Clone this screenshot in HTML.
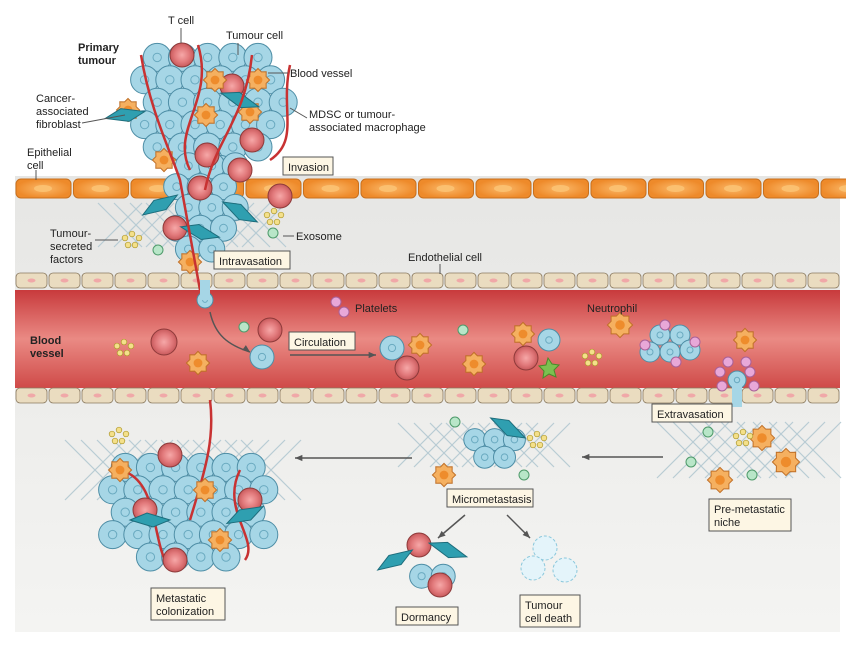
<!DOCTYPE html>
<html><head><meta charset="utf-8"><style>
body{margin:0;background:#fff;width:846px;height:653px;overflow:hidden}
svg{display:block;font-family:"Liberation Sans",sans-serif}
text{font-size:11px;fill:#222}
</style></head><body>
<svg id="s" width="846" height="653" viewBox="0 0 846 653" xmlns="http://www.w3.org/2000/svg">
<defs>
<linearGradient id="gb" x1="0" y1="0" x2="0" y2="1"><stop offset="0" stop-color="#e6e6e4"/><stop offset="1" stop-color="#f4f4f2"/></linearGradient>
<linearGradient id="ves" x1="0" y1="0" x2="0" y2="1"><stop offset="0" stop-color="#c83a3c"/><stop offset="0.5" stop-color="#ea8a84"/><stop offset="1" stop-color="#cf4a48"/></linearGradient>
<radialGradient id="rc"><stop offset="0" stop-color="#f6a8a8"/><stop offset="0.6" stop-color="#e27a7c"/><stop offset="1" stop-color="#c85a5c"/></radialGradient>
<radialGradient id="ep"><stop offset="0" stop-color="#fbb868"/><stop offset="1" stop-color="#ee8a2a"/></radialGradient>
</defs>
<rect x="15" y="176" width="825" height="456" fill="url(#gb)"/>
<rect x="15" y="290" width="825" height="98" fill="url(#ves)"/>
<g id="bg"></g>
<g id="fg"></g>
<g font-size="11">
<text x="168" y="24">T cell</text>
<text x="226" y="39">Tumour cell</text>
<text x="78" y="51" font-weight="bold">Primary</text>
<text x="78" y="64" font-weight="bold">tumour</text>
<text x="290" y="77">Blood vessel</text>
<text x="36" y="102">Cancer-</text>
<text x="36" y="115">associated</text>
<text x="36" y="128">fibroblast</text>
<text x="309" y="118">MDSC or tumour-</text>
<text x="309" y="131">associated macrophage</text>
<text x="27" y="156">Epithelial</text>
<text x="27" y="169">cell</text>
<text x="50" y="237">Tumour-</text>
<text x="50" y="250">secreted</text>
<text x="50" y="263">factors</text>
<text x="296" y="240">Exosome</text>
<text x="408" y="261">Endothelial cell</text>
<text x="355" y="312">Platelets</text>
<text x="587" y="312">Neutrophil</text>
<text x="30" y="344" font-weight="bold">Blood</text>
<text x="30" y="357" font-weight="bold">vessel</text>
</g>
<g id="lab"></g>
<g font-size="11">
<text x="288" y="171">Invasion</text>
<text x="219" y="265">Intravasation</text>
<text x="294" y="346">Circulation</text>
<text x="657" y="418">Extravasation</text>
<text x="452" y="503">Micrometastasis</text>
<text x="714" y="513">Pre-metastatic</text>
<text x="714" y="526">niche</text>
<text x="156" y="602">Metastatic</text>
<text x="156" y="615">colonization</text>
<text x="401" y="621">Dormancy</text>
<text x="525" y="609">Tumour</text>
<text x="525" y="622">cell death</text>
</g>
</svg>
<script>
const NS="http://www.w3.org/2000/svg";
const bg=document.getElementById('bg'),fg=document.getElementById('fg'),lab=document.getElementById('lab');
function el(p,t,a){const e=document.createElementNS(NS,t);for(const k in a)e.setAttribute(k,a[k]);p.appendChild(e);return e;}
for(let x=15;x<840;x+=57.5){el(bg,'rect',{x:x+1,y:179,width:55,height:19,rx:5,fill:'url(#ep)',stroke:'#c8701e','stroke-width':1});el(bg,'ellipse',{cx:x+28,cy:188.5,rx:9,ry:3.5,fill:'#fbc070'});}
[273,388].forEach(y=>{for(let x=15;x<840;x+=33){el(bg,'rect',{x:x+1,y:y,width:31,height:15,rx:4,fill:'#eadcc0',stroke:'#8a7a60','stroke-width':0.8});el(bg,'ellipse',{cx:x+16.5,cy:y+7.5,rx:4,ry:2,fill:'#f0a8a8'});}});
function mesh(cx,cy,w,h){for(let i=-w;i<w;i+=16){el(bg,'line',{x1:cx+i-h/2,y1:cy-h/2,x2:cx+i+h/2,y2:cy+h/2,stroke:'#b8ccd4','stroke-width':1.2});el(bg,'line',{x1:cx+i+h/2,y1:cy-h/2,x2:cx+i-h/2,y2:cy+h/2,stroke:'#b8ccd4','stroke-width':1.2});}}
mesh(200,225,80,44);mesh(185,470,90,60);mesh(490,445,70,44);mesh(755,450,70,56);
function bcell(p,x,y,r){el(p,'circle',{cx:x,cy:y,r:r,fill:'#a6d6e6',stroke:'#4e8ea6','stroke-width':1});el(p,'circle',{cx:x,cy:y,r:r*0.3,fill:'none',stroke:'#6aaac0','stroke-width':1});}
function rcell(p,x,y,r){el(p,'circle',{cx:x,cy:y,r:r,fill:'url(#rc)',stroke:'#8e3a3a','stroke-width':1});}
function ocell(p,x,y,r){let d='';for(let i=0;i<16;i++){const a=i/16*Math.PI*2,rr=r*(i%2?0.8:1.05);d+=(i?'L':'M')+(x+rr*Math.cos(a)).toFixed(1)+','+(y+rr*Math.sin(a)).toFixed(1);}el(p,'path',{d:d+'Z',fill:'#f5b060',stroke:'#c07028','stroke-width':1});el(p,'circle',{cx:x,cy:y,r:r*0.4,fill:'#ee8c2c'});}
function fib(p,x,y,a){el(p,'path',{d:'M-20,0 L-3,-7 L20,0 L3,7Z',fill:'#2f9fb0',stroke:'#1d6d7c',transform:`translate(${x},${y}) rotate(${a})`});}
function cluster(cx,cy,rx,ry,r){for(let y=cy-ry;y<=cy+ry;y+=r*1.6){for(let x=cx-rx;x<=cx+rx;x+=r*1.8){const xx=x+((Math.round((y-cy)/(r*1.6))%2)?r*0.9:0);if(((xx-cx)/rx)**2+((y-cy)/ry)**2<=1)bcell(fg,xx,y,r);}}}
cluster(210,105,78,70,14);cluster(205,200,40,55,13);
cluster(188,510,88,65,14);
cluster(487,442,32,20,11);
cluster(425,575,25,18,12);
[[182,55],[232,86],[207,155],[240,170],[200,188],[252,140],[175,228],[280,196]].forEach(c=>rcell(fg,c[0],c[1],12));
[[215,80],[206,115],[258,80],[250,112],[164,160],[128,110],[190,262]].forEach(c=>ocell(fg,c[0],c[1],11));
fib(fg,125,115,-10);fib(fg,240,100,20);fib(fg,160,205,-30);fib(fg,240,212,30);fib(fg,200,232,15);
['M141,55 C150,110 170,150 180,180 L200,290','M198,45 C215,100 170,130 190,170','M252,55 C245,120 215,140 205,190','M290,65 C280,110 300,140 270,160','M210,400 C215,440 205,470 190,520','M120,470 C160,480 150,540 170,570','M240,470 C220,510 260,540 245,560'].forEach(d=>el(fg,'path',{d:d,fill:'none',stroke:'#c83232','stroke-width':2.5}));
[[170,455],[205,490],[145,510],[220,540],[175,560],[120,470],[250,500]].forEach((c,i)=>i%2?ocell(fg,c[0],c[1],11):rcell(fg,c[0],c[1],12));
fib(fg,150,520,0);fib(fg,245,515,-25);
fib(fg,508,428,30);ocell(fg,444,475,11);
rcell(fg,419,545,12);rcell(fg,440,585,12);fib(fg,395,560,-30);fib(fg,448,550,20);
[[545,548],[533,568],[565,570]].forEach(c=>el(fg,'circle',{cx:c[0],cy:c[1],r:12,fill:'#e4f4fa',stroke:'#8cc8dc','stroke-dasharray':'3,2'}));
bcell(fg,205,300,8);el(fg,'rect',{x:200,y:280,width:10,height:20,fill:'#a6d6e6'});bcell(fg,262,357,12);
rcell(fg,164,342,13);ocell(fg,198,363,11);rcell(fg,270,330,12);
bcell(fg,392,348,12);ocell(fg,420,345,11);rcell(fg,407,368,12);
ocell(fg,474,364,11);ocell(fg,523,334,11);rcell(fg,526,358,12);bcell(fg,549,340,11);
el(fg,'path',{d:'M548,358 l4,6 7,1 -5,5 2,7 -7,-3 -6,4 1,-7 -5,-5 7,-1z',fill:'#7cc050',stroke:'#4a8a2a'});
ocell(fg,620,325,12);
[[660,335],[680,335],[650,352],[670,352],[690,350]].forEach(c=>bcell(fg,c[0],c[1],10));
[[645,345],[665,325],[695,342],[676,362]].forEach(c=>el(fg,'circle',{cx:c[0],cy:c[1],r:5,fill:'#e8a8d8',stroke:'#a86098'}));
ocell(fg,745,340,11);
bcell(fg,737,380,9);el(fg,'rect',{x:732,y:385,width:10,height:22,fill:'#a6d6e6'});
[[720,372],[722,386],[750,372],[754,386],[728,362],[746,362]].forEach(c=>el(fg,'circle',{cx:c[0],cy:c[1],r:5,fill:'#e8a8d8',stroke:'#a86098'}));
[[336,302],[344,312]].forEach(c=>el(fg,'circle',{cx:c[0],cy:c[1],r:5,fill:'#e8a8d8',stroke:'#a86098'}));
ocell(fg,762,438,12);ocell(fg,786,462,13);ocell(fg,720,480,12);
function dots(x,y){[[0,0],[7,-4],[14,0],[3,7],[10,7]].forEach(d=>el(fg,'circle',{cx:x+d[0],cy:y+d[1],r:2.8,fill:'#f4e08a',stroke:'#b09a30','stroke-width':0.7}));}
dots(125,238);dots(267,215);dots(117,346);dots(585,356);dots(530,438);dots(112,434);dots(736,436);
[[158,250],[273,233],[244,327],[463,330],[455,422],[524,475],[708,432],[691,462],[752,475]].forEach(c=>el(fg,'circle',{cx:c[0],cy:c[1],r:5,fill:'#b8e6c8',stroke:'#4e9a6a'}));
function arrow(x1,y1,x2,y2,d){el(fg,'path',{d:d||`M${x1},${y1} L${x2},${y2}`,fill:'none',stroke:'#555','stroke-width':1.5});const a=Math.atan2(y2-y1,x2-x1);el(fg,'path',{d:`M${x2},${y2} L${x2-8*Math.cos(a-0.4)},${y2-8*Math.sin(a-0.4)} L${x2-8*Math.cos(a+0.4)},${y2-8*Math.sin(a+0.4)}Z`,fill:'#555'});}
arrow(412,458,295,458);arrow(663,457,582,457);arrow(465,515,438,538);arrow(507,515,530,538);
arrow(228,336,250,352,'M210,312 C215,335 228,345 250,352');arrow(290,355,376,355);
[[181,28,181,43],[238,43,238,55],[268,73,288,73],[290,108,307,118],[82,123,125,115],[36,170,36,180],[95,240,118,240],[283,236,294,236],[440,264,440,274]].forEach(l=>el(fg,'line',{x1:l[0],y1:l[1],x2:l[2],y2:l[3],stroke:'#555'}));
[[283,157,50,18],[214,251,76,18],[289,332,66,18],[652,404,80,18],[447,489,86,18],[709,499,82,32],[151,588,74,32],[396,607,62,18],[520,595,60,32]].forEach(b=>el(lab,'rect',{x:b[0],y:b[1],width:b[2],height:b[3],fill:'#fdf6e4',stroke:'#555','stroke-width':1}));
</script>
</body></html>
